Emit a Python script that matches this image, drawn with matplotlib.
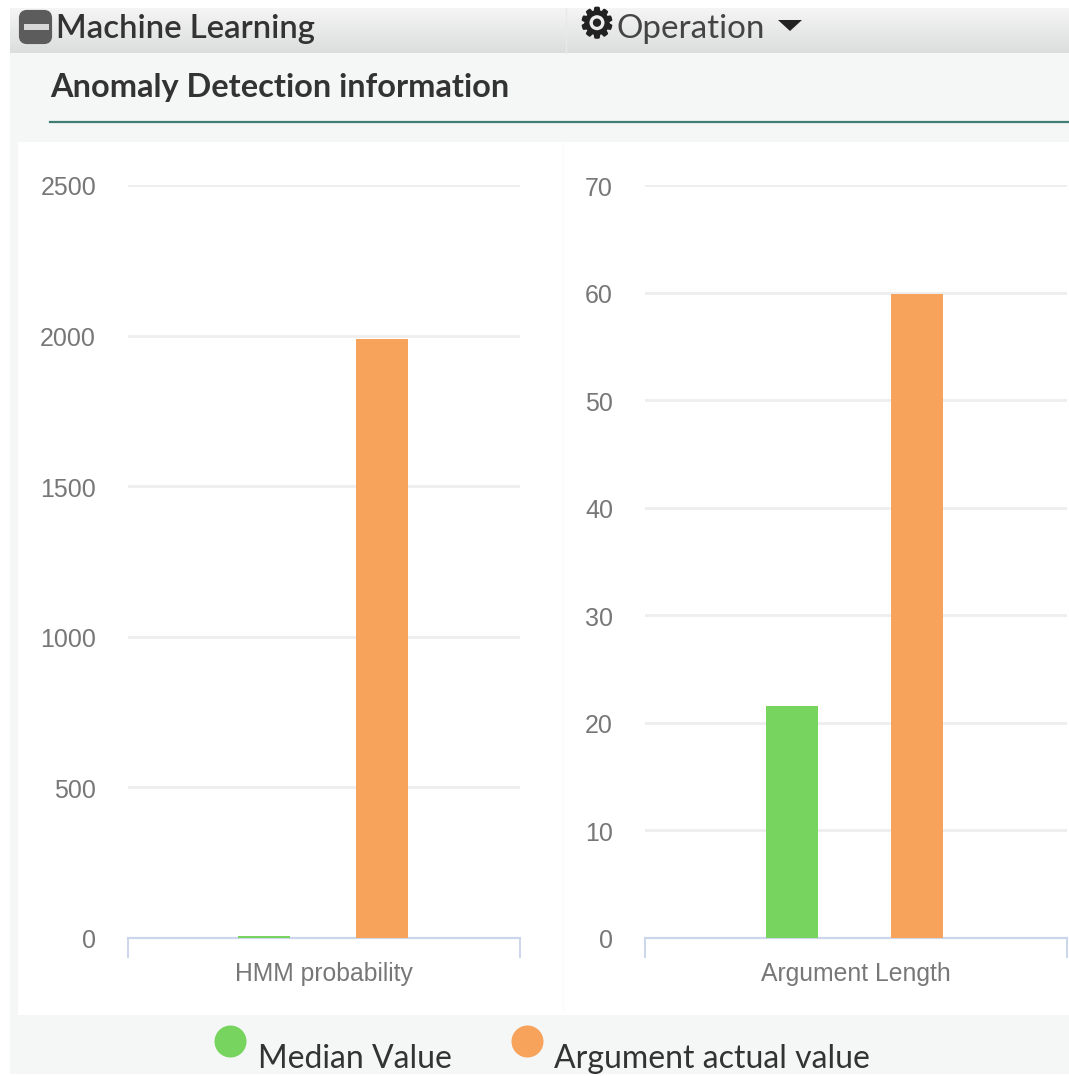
'''
anomaly detection panel: two bar charts with page header
'''

import numpy as np
import matplotlib
matplotlib.use('Agg')
import matplotlib.pyplot as plt
import matplotlib.patheffects as pe
from matplotlib.patches import Rectangle, FancyBboxPatch, Polygon
from matplotlib.transforms import ScaledTranslation

W, H = 1069, 1076

series_names = ['Median Value', 'Argument actual value']
series_colors = ['#76d45f', '#f7a35c']

left_category = 'HMM probability'
left_values = [8, 1990]
left_ticks = [0, 500, 1000, 1500, 2000, 2500]

right_category = 'Argument Length'
right_values = [21.6, 59.9]
right_ticks = [0, 10, 20, 30, 40, 50, 60, 70]

GRID = '#eeeeee'
AXIS = '#ccd6eb'
LABEL = '#777777'
DARK = '#333333'


def px_axes(fig, x0, y0, x1, y1):
    # y is measured from the top of the image
    return fig.add_axes([x0 / W, 1 - y1 / H, (x1 - x0) / W, (y1 - y0) / H])


def draw_bars(ax, category, values, ticks, half_width, bar_width, shift):
    for i, val in enumerate(values):
        ax.bar(i - 0.5, val, width=bar_width, color=series_colors[i], zorder=3)
    xlim = (shift - half_width, shift + half_width)
    ax.set_xlim(*xlim)
    ax.set_ylim(ticks[0], ticks[-1])
    ax.set_facecolor('none')
    ax.set_yticks(ticks)
    ax.tick_params(axis='y', length=0, pad=23, labelsize=18, labelcolor=LABEL)
    ax.set_xticks(xlim)
    ax.set_xticklabels(['', ''])
    ax.tick_params(axis='x', length=14.5, width=1.4, color=AXIS)
    ax.set_xlabel(category, fontsize=17.8, color=LABEL, labelpad=-1)
    ax.grid(axis='y', color=GRID, lw=2, zorder=0)
    for side in ['top', 'left', 'right']:
        ax.spines[side].set_visible(False)
    ax.spines['bottom'].set_color(AXIS)
    ax.spines['bottom'].set_linewidth(1.6)
    # tick labels sit a little below their grid lines
    down = ScaledTranslation(0, -1 / 100, fig.dpi_scale_trans)
    for lab in ax.get_yticklabels():
        lab.set_transform(lab.get_transform() + down)


plt.rcParams['font.family'] = ['Liberation Sans', 'DejaVu Sans']
fig = plt.figure(figsize=(W / 100, H / 100), dpi=100, facecolor='white')

# page background, header and legend are drawn in image pixels
bg = fig.add_axes([0, 0, 1, 1])
bg.set_xlim(0, W)
bg.set_ylim(H, 0)
bg.axis('off')

bg.add_patch(Rectangle((10, 8), W - 10, H - 10, color='#f5f7f6', lw=0))
shade = np.linspace(0, 1, 64).reshape(-1, 1)
bg.imshow(shade, extent=(10, W, 53, 8), cmap=matplotlib.colors.LinearSegmentedColormap.from_list(
    'head', ['#f5f5f5', '#dcdddd']), aspect='auto', zorder=1)
bg.set_xlim(0, W)
bg.set_ylim(H, 0)
bg.plot([566, 566], [8, 53], color='#e9e9e9', lw=1, zorder=2)
bg.add_patch(Rectangle((18, 142), W - 18, 873, color='white', lw=0, zorder=1))
bg.plot([563, 563], [142, 1015], color='#fbfbfb', lw=1, zorder=2)

# collapse button
bg.add_patch(FancyBboxPatch((21, 12), 29, 30, boxstyle='round,pad=0,rounding_size=6',
                            mutation_aspect=1, color='#5c5c5c', lw=3, zorder=3))
bg.add_patch(Rectangle((24, 24), 25, 6, color='#d8d8d8', lw=0, zorder=4))

bg.text(56, 29, 'Machine Learning', family='Lato', fontsize=23.7, fontweight='semibold',
        color=DARK, va='center', ha='left', zorder=4)
bg.text(597, 26, '\u2699', family='DejaVu Sans', fontsize=29, color='#222222',
        va='center', ha='center', zorder=4,
        path_effects=[pe.withStroke(linewidth=1.6, foreground='#222222')])
bg.text(617, 29, 'Operation', family='Lato', fontsize=23.9, color='#444444',
        va='center', ha='left', zorder=4)
bg.add_patch(Polygon([(778, 20), (802, 20), (790, 31)], color='#222222', lw=0, zorder=4))

bg.text(50, 87, 'Anomaly Detection information', family='Lato', fontsize=23.4,
        fontweight='bold', color=DARK, va='center', ha='left', zorder=4)
bg.plot([50, W], [122, 122], color='#3f7d75', lw=1.6, zorder=4)

# legend
bg.scatter([230], [1041], s=(32 * 0.72) ** 2, color=series_colors[0], lw=0, zorder=4)
bg.scatter([527], [1041], s=(32 * 0.72) ** 2, color=series_colors[1], lw=0, zorder=4)
bg.text(258, 1059, series_names[0], family='Lato', fontsize=23, color=DARK,
        va='center', ha='left', zorder=4)
bg.text(554, 1059, series_names[1], family='Lato', fontsize=23, color=DARK,
        va='center', ha='left', zorder=4)

ax_l = px_axes(fig, 128, 185, 520, 938)
draw_bars(ax_l, left_category, left_values, left_ticks, 1.668, 0.443, 0.008)

ax_r = px_axes(fig, 645, 185, 1067, 938)
draw_bars(ax_r, right_category, right_values, right_ticks, 1.688, 0.416, 0.016)

fig.savefig('out.png', dpi=100)
